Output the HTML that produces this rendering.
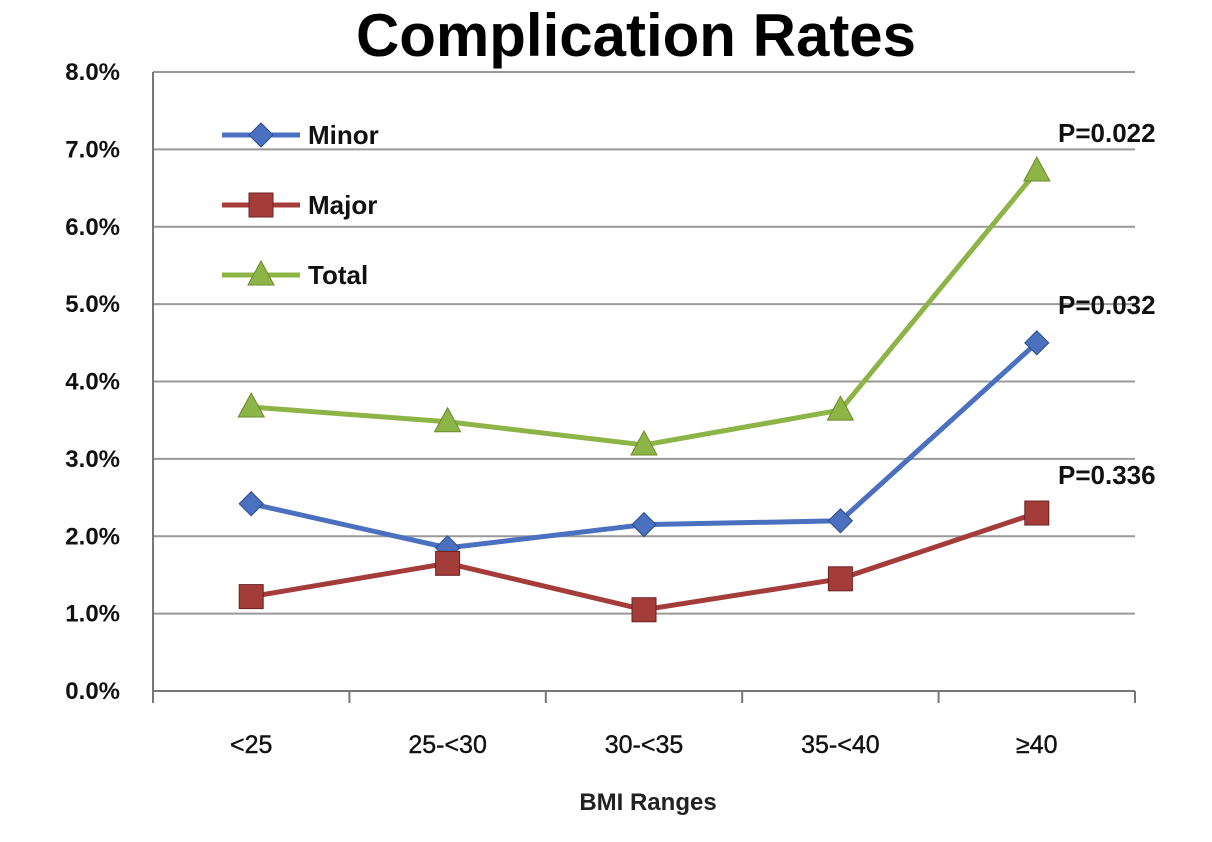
<!DOCTYPE html>
<html><head><meta charset="utf-8"><style>
body{margin:0;background:#fff;width:1212px;height:837px;overflow:hidden;font-family:"Liberation Sans",sans-serif}
</style></head><body>
<svg id="chart" width="1212" height="837" xmlns="http://www.w3.org/2000/svg">
<text x="636" y="56" text-anchor="middle" font-size="60" font-weight="bold" font-family="Liberation Sans, sans-serif">Complication Rates</text>
<g id="grid"></g>
<g id="axes"></g>
<g id="series"></g>
<g id="legend"></g>
<text x="648" y="810" text-anchor="middle" font-size="24" font-weight="bold" fill="#222">BMI Ranges</text>
</svg>
<script>
const categories=["<25","25-<30","30-<35","35-<40","≥40"];
const minor=[2.42,1.85,2.15,2.2,4.5];
const major=[1.22,1.65,1.05,1.45,2.3];
const total=[3.67,3.48,3.18,3.63,6.72];
const yTicks=[0,1,2,3,4,5,6,7,8];
const pLabels=["P=0.022","P=0.032","P=0.336"];
const NS="http://www.w3.org/2000/svg";
const X0=153,X1=1135,Y0=691,Y8=72;
const bw=(X1-X0)/categories.length;
const xs=i=>X0+bw*(i+0.5);
const ys=v=>Y0-(v/8)*(Y0-Y8);
function mk(t,a,p){const e=document.createElementNS(NS,t);for(const k in a)e.setAttribute(k,a[k]);p.appendChild(e);return e;}
const grid=document.getElementById('grid'),axes=document.getElementById('axes'),ser=document.getElementById('series'),leg=document.getElementById('legend');
yTicks.forEach(v=>{
 const l=mk('line',{x1:X0,x2:X1,y1:ys(v),y2:ys(v),stroke:v===0?'#777':'#999','stroke-width':2},grid);
 
 
 const t=mk('text',{x:120,y:ys(v)+8,'text-anchor':'end','font-size':24,'font-weight':'bold',fill:'#111'},axes);
 t.textContent=v.toFixed(1)+'%';
 
 
});
mk('line',{x1:X0,x2:X0,y1:Y8,y2:Y0+12,stroke:'#777','stroke-width':2},axes);
for(let i=0;i<=categories.length;i++){mk('line',{x1:X0+bw*i,x2:X0+bw*i,y1:Y0,y2:Y0+12,stroke:'#777','stroke-width':2},axes);}
categories.forEach((c,i)=>{
 const t=mk('text',{x:xs(i),y:753,'text-anchor':'middle','font-size':25,fill:'#111',stroke:'#111','stroke-width':0.4},axes);
 t.textContent=c;
 
 
});
function marker(type,x,y,col,p){
 if(type==='d')return mk('polygon',{points:`${x},${y-12} ${x+12},${y} ${x},${y+12} ${x-12},${y}`,fill:col,stroke:'#2c4d8a','stroke-width':1},p);
 if(type==='s')return mk('rect',{x:x-12,y:y-12,width:24,height:24,fill:col,stroke:'#6b2220','stroke-width':1},p);
 return mk('polygon',{points:`${x},${y-14} ${x+13},${y+10} ${x-13},${y+10}`,fill:col,stroke:'#6a8a2e','stroke-width':1},p);
}
const S=[["total",total,'#8db446','t'],["minor",minor,'#4a70bf','d'],["major",major,'#a43d3a','s']];
S.forEach(([n,d,c,m])=>{
 const pl=mk('polyline',{points:d.map((v,i)=>xs(i)+','+ys(v)).join(' '),fill:'none',stroke:c,'stroke-width':5},ser);
 
 
 d.forEach((v,i)=>{const e=marker(m,xs(i),ys(v),c,ser);
  
  });
});
[[total,0],[minor,1],[major,2]].forEach(([d,k])=>{
 const t=mk('text',{x:xs(4)+70,y:ys(d[4])-29,'text-anchor':'middle','font-size':26,'font-weight':'bold',fill:'#111'},ser);
 t.textContent=pLabels[k];
 
 
});
[["Minor",'#4a70bf','d',135],["Major",'#a43d3a','s',205],["Total",'#8db446','t',275]].forEach(([n,c,m,y])=>{
 const g=mk('g',{},leg);
 
 
 mk('line',{x1:222,x2:300,y1:y,y2:y,stroke:c,'stroke-width':5},g);
 marker(m,261,y,c,g);
 const t=mk('text',{x:308,y:y+9,'font-size':26,'font-weight':'bold',fill:'#111'},g);t.textContent=n;
});
</script>
</body></html>
